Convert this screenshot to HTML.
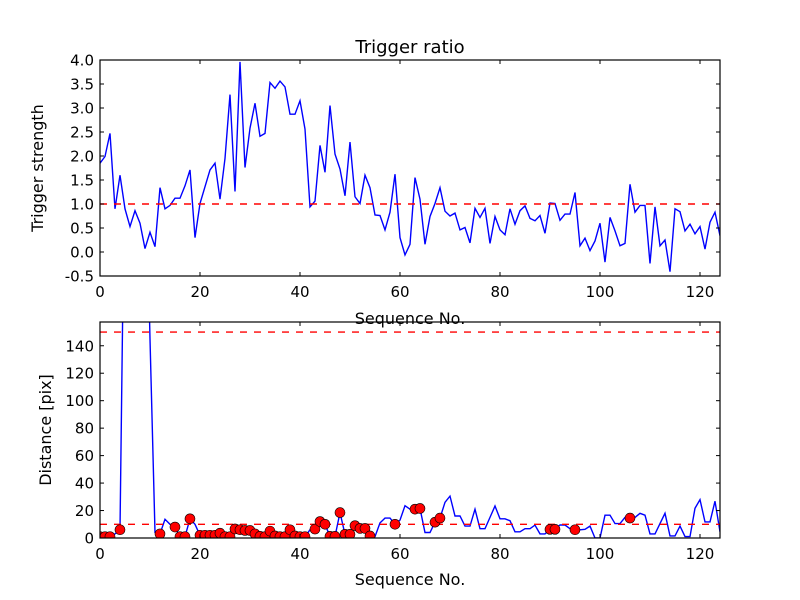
<!DOCTYPE html>
<html><head><meta charset="utf-8"><style>
html,body{margin:0;padding:0;background:#fff;}
svg{display:block;font-family:"DejaVu Sans","Liberation Sans",sans-serif;}
</style></head><body>
<svg id="chart" width="800" height="600" viewBox="0 0 800 600" xmlns="http://www.w3.org/2000/svg">
<rect width="800" height="600" fill="#fff"/>
<text x="410" y="53" font-size="18" text-anchor="middle">Trigger ratio</text>
<text x="410" y="324" font-size="16" text-anchor="middle">Sequence No.</text>
<text x="410" y="585" font-size="16" text-anchor="middle">Sequence No.</text>
<text transform="translate(43,168) rotate(-90)" font-size="16" text-anchor="middle">Trigger strength</text>
<text transform="translate(51,430) rotate(-90)" font-size="16" text-anchor="middle">Distance [pix]</text>
<g id="top"></g>
<g id="bot"></g>
</svg>
<script>
const trigger = [1.85,1.99,2.47,0.9,1.6,0.9,0.53,0.86,0.6,0.07,0.41,0.11,1.34,0.9,0.97,1.12,1.12,1.38,1.71,0.3,
1.01,1.36,1.71,1.85,1.1,1.95,3.28,1.26,3.96,1.76,2.58,3.1,2.41,2.47,3.53,3.41,3.56,3.44,2.87,2.87,
3.15,2.56,0.94,1.06,2.22,1.66,3.05,2.04,1.73,1.17,2.29,1.15,1.01,1.6,1.34,0.77,0.76,0.46,0.83,1.62,
0.3,-0.06,0.16,1.55,1.1,0.16,0.74,1.01,1.34,0.85,0.75,0.81,0.46,0.51,0.19,0.91,0.72,0.91,0.18,0.74,
0.46,0.36,0.9,0.58,0.86,0.96,0.7,0.65,0.76,0.39,1.02,1.01,0.66,0.79,0.79,1.24,0.13,0.29,0.03,0.23,
0.6,-0.21,0.72,0.44,0.13,0.18,1.41,0.83,0.97,0.97,-0.24,0.94,0.13,0.25,-0.41,0.9,0.84,0.44,0.58,0.38,
0.53,0.06,0.62,0.83,0.34];
const distance = [1,1,1,3,6,300,300,300,300,300,145,4,3,13.6,10,8,1,1,14,10,
2,2,2,2,3.5,1,1,6.6,6,5.5,5.5,3,1.2,1,5,1.5,1,1,6,1.5,
1,1,6,6.5,12,10,1.2,1.2,18.5,2.7,2.7,9,7,7,1.5,1,11,14.5,14.5,10,
13,23.5,21,21,21.5,4,4,11.5,14.5,26,30.5,16,16,8.7,8.7,21,6.8,6.8,15,23.3,
14,14,12.6,4.5,4.5,6.8,6.8,9.4,3,3,6.3,6.3,9.5,9.5,6.8,6,6,6.3,8.7,0,
0,16.6,16.6,10.5,10.5,15,14.5,15,18,16.6,3,3,10.5,18,1.5,1.5,8.7,1,1,21.6,
28,11.7,11.7,26.8,4.5];
const topTicksY = ["-0.5","0.0","0.5","1.0","1.5","2.0","2.5","3.0","3.5","4.0"];
const botTicksY = ["0","20","40","60","80","100","120","140"];
const ticksX = ["0","20","40","60","80","100","120"];
const triggerThreshold = 1.0;
const distLow = 10, distHigh = 150;

const NS="http://www.w3.org/2000/svg";
const L=100,R=720;
function mk(tag,attrs,parent){const e=document.createElementNS(NS,tag);for(const k in attrs)e.setAttribute(k,attrs[k]);parent.appendChild(e);return e;}
function xs(v){return L+(v-0)/(124-0)*(R-L);}

function panel(g,T,B,ymin,ymax,yt,prefix){
  const ys=v=>B-(v-ymin)/(ymax-ymin)*(B-T);
  const cid=prefix+"clip";
  const cp=mk("clipPath",{id:cid},g);mk("rect",{x:L,y:T,width:R-L,height:B-T},cp);
  const plot=mk("g",{"clip-path":"url(#"+cid+")"},g);
  
  
  ticksX.forEach(t=>{const x=xs(+t);
    const a=mk("line",{x1:x,x2:x,y1:B,y2:B-4,stroke:"#000","stroke-width":1},g);
    
    
    mk("line",{x1:x,x2:x,y1:T,y2:T+4,stroke:"#000","stroke-width":1},g);
    const tx=mk("text",{x:x,y:B+21,"font-size":15,"text-anchor":"middle"},g);tx.textContent=t;
    
    
  });
  yt.forEach(t=>{const y=ys(+t);
    const a=mk("line",{x1:L,x2:L+4,y1:y,y2:y,stroke:"#000","stroke-width":1},g);
    
    
    mk("line",{x1:R,x2:R-4,y1:y,y2:y,stroke:"#000","stroke-width":1},g);
    const tx=mk("text",{x:L-6,y:y+5.5,"font-size":15,"text-anchor":"end"},g);tx.textContent=t;
    
    
  });
  const fr=mk("rect",{x:L,y:T,width:R-L,height:B-T,fill:"none",stroke:"#000","stroke-width":1.2},g);
  
  
  return {ys,plot};
}

const tp=panel(document.getElementById("top"),60,276,-0.5,4.0,topTicksY,"top-");
let d=trigger.map((v,i)=>(i?"L":"M")+xs(i).toFixed(1)+","+tp.ys(v).toFixed(1)).join("");
const tl=mk("path",{d:d,fill:"none",stroke:"#0000ff","stroke-width":1.4},tp.plot);


const th=mk("line",{x1:L,x2:R,y1:tp.ys(triggerThreshold),y2:tp.ys(triggerThreshold),stroke:"#ff0000","stroke-width":1.4,"stroke-dasharray":"7,7"},tp.plot);



const bp=panel(document.getElementById("bot"),322,538,0,157.3,botTicksY,"bottom-");
d=distance.map((v,i)=>(i?"L":"M")+xs(i).toFixed(1)+","+bp.ys(v).toFixed(1)).join("");
const bl=mk("path",{d:d,fill:"none",stroke:"#0000ff","stroke-width":1.4},bp.plot);


[distLow,distHigh].forEach(v=>{
  const l=mk("line",{x1:L,x2:R,y1:bp.ys(v),y2:bp.ys(v),stroke:"#ff0000","stroke-width":1.4,"stroke-dasharray":"7,7"},bp.plot);
  
  
});
distance.forEach((v,i)=>{
  if(trigger[i]>triggerThreshold){
    const c=mk("circle",{cx:xs(i),cy:bp.ys(v),r:5,fill:"#ff0000",stroke:"#000","stroke-width":0.6},bp.plot);
    
    
  }
});
</script>
</body></html>
